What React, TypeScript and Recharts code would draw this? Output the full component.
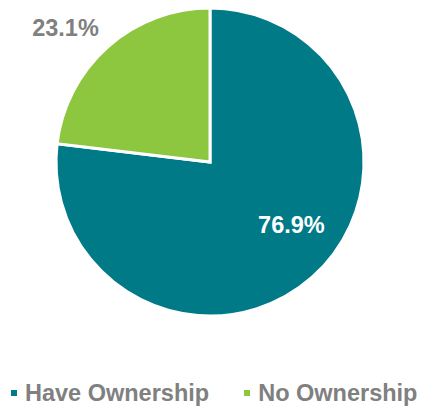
import { PieChart, Pie, Cell, Legend } from "recharts";

const categories = ["Have Ownership", "No Ownership"];
const shares = [76.9, 23.1];
const colors = ["#007A87", "#8DC63F"];

const data = categories.map((name, i) => ({ name, value: shares[i] }));

const RADIAN = Math.PI / 180;
const FONT = "Liberation Sans, Arial, sans-serif";

function renderLabel(props: any) {
  const { cx, cy, midAngle, outerRadius, index, value } = props;
  // inside label for the big slice, outside grey label for the small one
  const r = index === 0 ? outerRadius * 0.67 : outerRadius + 43;
  const angle = index === 0 ? midAngle + 10.5 : midAngle + 5.6;
  const x = cx + r * Math.cos(-angle * RADIAN);
  const y = cy + r * Math.sin(-angle * RADIAN);
  return (
    <text
      x={x}
      y={y}
      fill={index === 0 ? "#ffffff" : "#808080"}
      textAnchor="middle"
      dominantBaseline="central"
      fontSize={23.5}
      fontWeight="bold"
      fontFamily={FONT}
    >
      {`${value.toFixed(1)}%`}
    </text>
  );
}

function renderLegend() {
  return (
    <div
      style={{
        display: "flex",
        fontFamily: FONT,
        fontWeight: "bold",
        fontSize: 23.5,
        lineHeight: "28px",
        color: "#808080",
        paddingLeft: 11,
      }}
    >
      {categories.map((name, i) => (
        <div key={name} style={{ display: "flex", alignItems: "center", marginRight: i === 0 ? 35 : 0 }}>
          <span style={{ width: 6, height: 6, background: colors[i], marginRight: 8, display: "inline-block" }} />
          <span>{name}</span>
        </div>
      ))}
    </div>
  );
}

export default function App() {
  return (
    <div style={{ position: "absolute", left: 0, top: 0, background: "#fff" }}>
      <PieChart width={423} height={406} margin={{ top: 0, right: 0, bottom: 0, left: 0 }}>
        <Pie
          data={data}
          dataKey="value"
          nameKey="name"
          cx={210}
          cy={162}
          outerRadius={154}
          startAngle={90}
          endAngle={-270}
          stroke="#ffffff"
          strokeWidth={3}
          label={renderLabel}
          labelLine={false}
          isAnimationActive={false}
        >
          {data.map((d, i) => (
            <Cell key={d.name} fill={colors[i]} />
          ))}
        </Pie>
        <Legend content={renderLegend} wrapperStyle={{ top: 379, left: 0, width: 423 }} />
      </PieChart>
    </div>
  );
}
